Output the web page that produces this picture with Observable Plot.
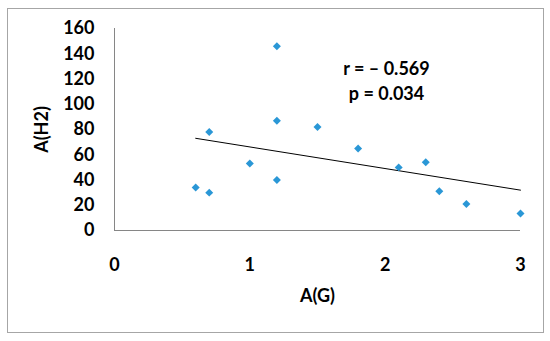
<!DOCTYPE html>
<html>
<head>
<meta charset="utf-8">
<script src="https://cdn.jsdelivr.net/npm/d3@7"></script>
<script src="https://cdn.jsdelivr.net/npm/@observablehq/plot@0.6"></script>
<style>
  html, body { margin: 0; padding: 0; background: #fff; }
  #wrap { position: relative; width: 550px; height: 341px; }
  #border { position: absolute; left: 7px; top: 8px; width: 535px; height: 323px; border: 1px solid #a6a6a6; pointer-events: none; }
</style>
</head>
<body>
<div id="wrap"><div id="border"></div></div>
<script>
const xValues = [0.6, 0.7, 0.7, 1.0, 1.2, 1.2, 1.2, 1.5, 1.8, 2.1, 2.3, 2.4, 2.6, 3.0];
const yValues = [34, 30, 78, 53, 146, 87, 40, 82, 65, 50, 54, 31, 21, 13.5];
const xTicks = [0, 1, 2, 3];
const yTicks = [0, 20, 40, 60, 80, 100, 120, 140, 160];
const xLabel = "A(G)";
const yLabel = "A(H2)";
const annotations = [
  {x: 2.01, y: 128, text: "r = \u2013 0.569"},
  {x: 2.01, y: 108, text: "p = 0.034"}
];

const points = xValues.map((x, i) => ({x, y: yValues[i]}));
const font = "Lato, 'Open Sans', sans-serif";

const chart = Plot.plot({
  width: 550,
  height: 341,
  marginLeft: 114,
  marginRight: 30,
  marginTop: 28,
  marginBottom: 111,
  style: {fontFamily: font, fontSize: "18px", fontWeight: "bold", color: "#000", background: "transparent"},
  x: {domain: [0, 3], ticks: xTicks, tickFormat: d3.format("d"), tickSize: 0, tickPadding: 28, label: null},
  y: {domain: [0, 160], ticks: yTicks, tickFormat: d3.format("d"), tickSize: 0, tickPadding: 20, label: null},
  marks: [
    Plot.ruleX([0], {stroke: "#868686", strokeWidth: 1}),
    Plot.ruleY([0], {stroke: "#868686", strokeWidth: 1}),
    Plot.linearRegressionY(points, {x: "x", y: "y", stroke: "#000", strokeWidth: 1, ci: 0}),
    Plot.dot(points, {x: "x", y: "y", symbol: "diamond2", r: 3.6, fill: "#2a97d6", stroke: "none"}),
    Plot.text(annotations, {x: "x", y: "y", text: "text", fontSize: 18, fontWeight: "bold", fill: "#000"}),
    Plot.text([xLabel], {frameAnchor: "bottom", dy: 71, fontSize: 18, fontWeight: "bold", fill: "#000"}),
    Plot.text([yLabel], {frameAnchor: "left", textAnchor: "middle", dx: -72, rotate: -90, fontSize: 18, fontWeight: "bold", fill: "#000"})
  ]
});
document.getElementById("wrap").prepend(chart);
</script>
</body>
</html>
